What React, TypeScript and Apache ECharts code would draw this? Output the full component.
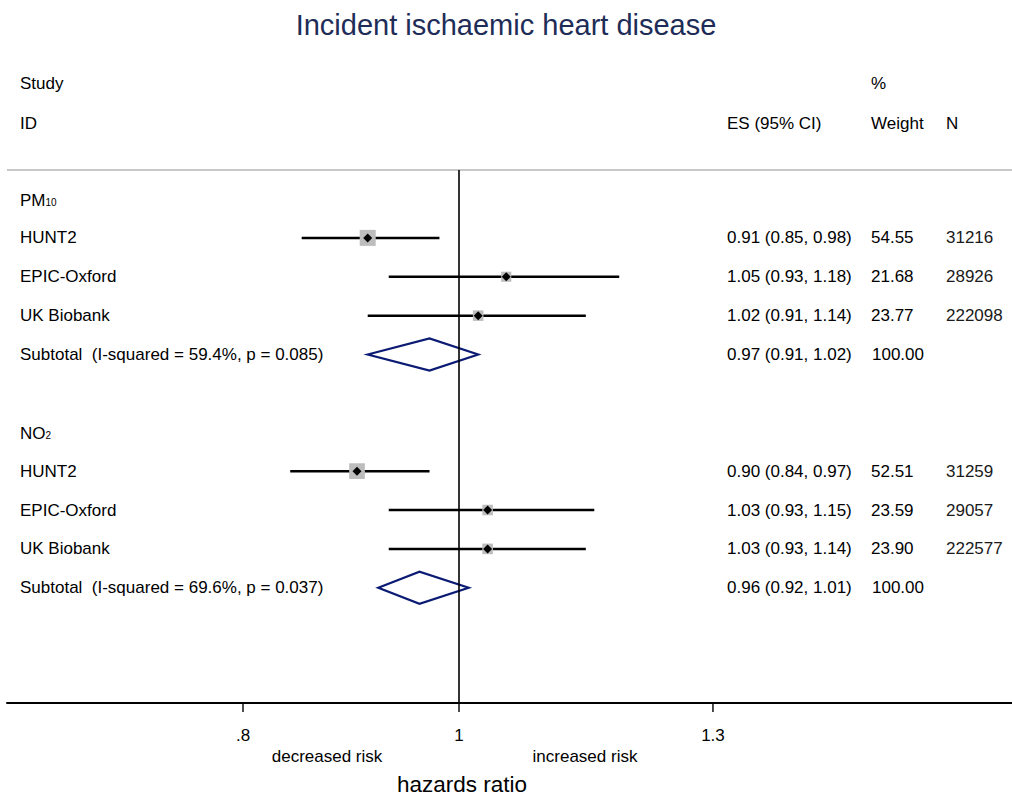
import React, { useEffect, useRef } from "react";
import * as echarts from "echarts";

// ---- data ----
const studyNames = ["HUNT2", "EPIC-Oxford", "UK Biobank"];

const pm10ES = [0.91, 1.05, 1.02];
const pm10Lo = [0.85, 0.93, 0.91];
const pm10Hi = [0.98, 1.18, 1.14];
const pm10Weight = [54.55, 21.68, 23.77];
const pm10N = [31216, 28926, 222098];
const pm10Subtotal = [0.97, 0.91, 1.02]; // es, lo, hi
const pm10Het = { i2: "59.4%", p: "0.085" };

const no2ES = [0.9, 1.03, 1.03];
const no2Lo = [0.84, 0.93, 0.93];
const no2Hi = [0.97, 1.15, 1.14];
const no2Weight = [52.51, 23.59, 23.9];
const no2N = [31259, 29057, 222577];
const no2Subtotal = [0.96, 0.92, 1.01];
const no2Het = { i2: "69.6%", p: "0.037" };

const tickValues = [0.8, 1, 1.3];
const tickLabels = [".8", "1", "1.3"];

const FONT = "'Liberation Sans', Arial, Helvetica, sans-serif";

type Row = {
  kind: "group" | "study" | "subtotal";
  label: string;
  sub?: string;
  es?: number;
  lo?: number;
  hi?: number;
  weight?: number;
  n?: number;
};

function buildRows(): Row[] {
  const rows: (Row | null)[] = [];
  const addGroup = (
    base: string,
    sub: string,
    es: number[],
    lo: number[],
    hi: number[],
    w: number[],
    n: number[],
    st: number[],
    het: { i2: string; p: string }
  ) => {
    rows.push({ kind: "group", label: base, sub });
    for (let i = 0; i < studyNames.length; i++) {
      rows.push({ kind: "study", label: studyNames[i], es: es[i], lo: lo[i], hi: hi[i], weight: w[i], n: n[i] });
    }
    rows.push({
      kind: "subtotal",
      label: `Subtotal  (I-squared = ${het.i2}, p = ${het.p})`,
      es: st[0],
      lo: st[1],
      hi: st[2],
      weight: 100,
    });
  };
  addGroup("PM", "10", pm10ES, pm10Lo, pm10Hi, pm10Weight, pm10N, pm10Subtotal, pm10Het);
  rows.push(null);
  addGroup("NO", "2", no2ES, no2Lo, no2Hi, no2Weight, no2N, no2Subtotal, no2Het);
  return rows as any;
}

export default function App() {
  const ref = useRef<HTMLDivElement>(null);

  useEffect(() => {
    if (!ref.current) return;
    const chart = echarts.init(ref.current, undefined, { renderer: "svg" });
    const rowsAll = buildRows();
    const items: { row: Row; idx: number }[] = [];
    rowsAll.forEach((r, i) => {
      if (r) items.push({ row: r, idx: i });
    });

    const data = items.map(({ row, idx }) => ({
      value: [
        row.es != null ? Math.log(row.es) : 0,
        idx,
        row.lo != null ? Math.log(row.lo) : 0,
        row.hi != null ? Math.log(row.hi) : 0,
        row.weight ?? 0,
      ],
    }));

    const fmt = (v: number) => v.toFixed(2);
    const textStyle = (x: number, y: number, text: string, extra: any = {}) => ({
      type: "text",
      x,
      y,
      style: {
        text,
        fill: "#000",
        font: `17px ${FONT}`,
        verticalAlign: "middle",
        align: "left",
        ...extra,
      },
    });

    const renderItem = (params: any, api: any) => {
      const { row } = items[params.dataIndex];
      const yPix = api.coord([0, api.value(1)])[1];
      const children: any[] = [];
      if (row.kind === "group") {
        children.push({
          type: "text",
          x: 20,
          y: yPix,
          style: {
            text: `{b|${row.label}}{s|${row.sub}}`,
            verticalAlign: "middle",
            align: "left",
            rich: {
              b: { fontSize: 17, fontFamily: FONT, fill: "#000", color: "#000", lineHeight: 20, verticalAlign: "bottom" },
              s: { fontSize: 10, fontFamily: FONT, fill: "#000", color: "#000", lineHeight: 20, verticalAlign: "bottom", padding: [0, 0, 2, 0] },
            },
          },
        });
        return { type: "group", children };
      }
      children.push(textStyle(20, yPix, row.label));
      const pEs = api.coord([api.value(0), api.value(1)]);
      const pLo = api.coord([api.value(2), api.value(1)]);
      const pHi = api.coord([api.value(3), api.value(1)]);
      if (row.kind === "study") {
        children.push({
          type: "line",
          shape: { x1: pLo[0], y1: pLo[1], x2: pHi[0], y2: pHi[1] },
          style: { stroke: "#000", lineWidth: 2.5 },
        });
        const side = 2.166 * Math.sqrt(api.value(4));
        children.push({
          type: "rect",
          shape: { x: pEs[0] - side / 2, y: pEs[1] - side / 2, width: side, height: side },
          style: { fill: "#bdbdbd" },
        });
        const m = 4.5;
        children.push({
          type: "polygon",
          shape: {
            points: [
              [pEs[0] - m, pEs[1]],
              [pEs[0], pEs[1] - m],
              [pEs[0] + m, pEs[1]],
              [pEs[0], pEs[1] + m],
            ],
          },
          style: { fill: "#000" },
        });
        children.push(textStyle(946, yPix, String(row.n), { fill: "#1a1a1a" }));
      } else {
        const h = 16;
        children.push({
          type: "polygon",
          shape: {
            points: [
              [pLo[0], pEs[1]],
              [pEs[0], pEs[1] - h],
              [pHi[0], pEs[1]],
              [pEs[0], pEs[1] + h],
            ],
          },
          style: { fill: "none", stroke: "#0b1a73", lineWidth: 2.2, lineJoin: "miter" },
        });
      }
      children.push(textStyle(727, yPix, `${fmt(row.es!)} (${fmt(row.lo!)}, ${fmt(row.hi!)})`));
      children.push(textStyle(row.kind === "subtotal" ? 872 : 871, yPix, fmt(row.weight!)));
      return { type: "group", children };
    };

    const pxPerLn = 968;
    const xZero = 459;
    const gridLeft = 7;
    const gridRight = 1012;
    const xMin = (gridLeft - xZero) / pxPerLn;
    const xMax = (gridRight - xZero) / pxPerLn;

    const rowTop = 199;
    const rowStep = 38.875;
    const gridTop = 170;
    const gridBottom = 703;
    const yMin = (gridTop - rowTop) / rowStep;
    const yMax = (gridBottom - rowTop) / rowStep;

    const lnTicks = tickValues.map((v) => Math.log(v));

    const headerText = (x: number, y: number, text: string, extra: any = {}) => ({
      type: "text",
      x,
      y,
      style: { text, fill: "#000", font: `17px ${FONT}`, verticalAlign: "middle", align: "left", ...extra },
    });

    const baseGraphic: any[] = [
      {
        id: "sep",
        type: "line",
        shape: { x1: gridLeft, y1: gridTop, x2: gridRight, y2: gridTop },
        style: { stroke: "#c8c8c8", lineWidth: 2 },
      },
      headerText(20, 83, "Study"),
      headerText(20, 123, "ID"),
      headerText(871, 83, "%"),
      headerText(727, 123, "ES (95% CI)"),
      headerText(871, 123, "Weight"),
      headerText(946, 123, "N"),
      headerText(327, 756, "decreased risk", { align: "center" }),
      headerText(585, 756, "increased risk", { align: "center" }),
      headerText(462, 784, "hazards ratio", { align: "center", font: `22.5px ${FONT}` }),
    ];

    chart.setOption({
      animation: false,
      backgroundColor: "#fff",
      title: {
        text: "Incident ischaemic heart disease",
        left: "center",
        top: 5,
        textStyle: { fontFamily: FONT, fontSize: 29, fontWeight: "normal", color: "#1e2d57" },
      },
      grid: { left: gridLeft, right: 1012 - gridRight, top: gridTop, bottom: 798 - gridBottom, containLabel: false },
      xAxis: {
        type: "value",
        position: "bottom",
        min: xMin,
        max: xMax,
        splitLine: { show: false },
        axisLine: { show: true, onZero: false, lineStyle: { color: "#000", width: 2 } },
        axisTick: { show: false },
        axisLabel: {
          customValues: lnTicks,
          margin: 24,
          fontFamily: FONT,
          fontSize: 17,
          color: "#000",
          formatter: (v: number) => {
            const i = lnTicks.findIndex((t) => Math.abs(t - v) < 1e-6);
            return i >= 0 ? tickLabels[i] : "";
          },
        },
      },
      yAxis: {
        type: "value",
        inverse: true,
        min: yMin,
        max: yMax,
        show: false,
      },
      series: [
        {
          type: "custom",
          renderItem,
          data,
          encode: { x: [0, 2, 3], y: 1 },
          clip: false,
          silent: true,
          markLine: {
            silent: true,
            symbol: "none",
            label: { show: false },
            lineStyle: { color: "#000", width: 1.6, type: "solid" },
            data: [{ xAxis: 0 }],
          },
        },
      ],
      graphic: baseGraphic,
    });

    // tick marks positioned through the axis scale
    const tickGraphic = lnTicks.map((t, i) => {
      const p = chart.convertToPixel({ gridIndex: 0 }, [t, yMax]) as number[];
      return {
        id: "tick" + i,
        type: "line",
        z: 100,
        shape: { x1: p[0], y1: p[1], x2: p[0], y2: p[1] + 9 },
        style: { stroke: "#000", lineWidth: 1.4 },
      };
    });
    chart.setOption({ graphic: [...baseGraphic, ...tickGraphic] });

    return () => chart.dispose();
  }, []);

  return <div ref={ref} style={{ position: "fixed", left: 0, top: 0, width: 1012, height: 798 }} />;
}
